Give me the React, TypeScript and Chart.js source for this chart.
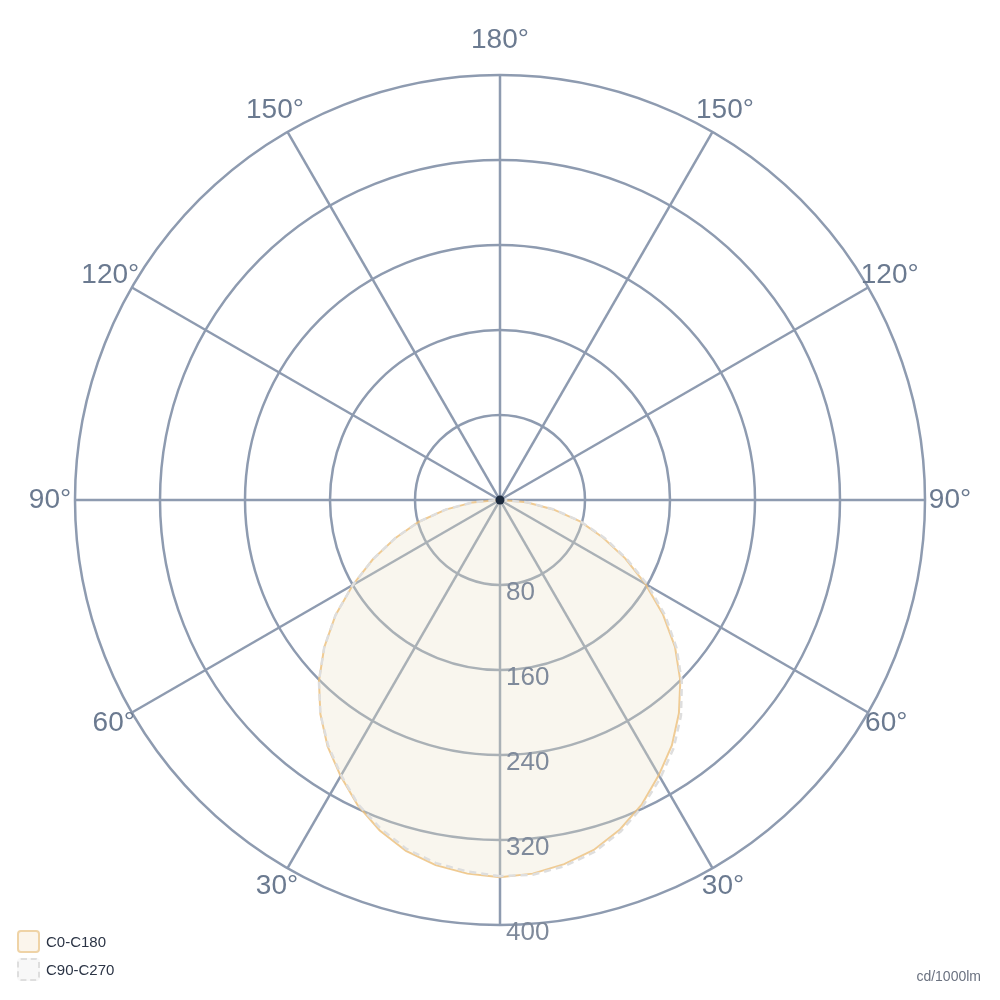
import React, { useEffect, useRef } from 'react';
import { Chart, registerables } from 'chart.js';

Chart.register(...registerables);

// gamma angle from nadir, one entry per 5 degrees
const gammaAngles = [
  0, 5, 10, 15, 20, 25, 30, 35, 40, 45, 50, 55, 60, 65, 70, 75, 80, 85, 90,
  95, 100, 105, 110, 115, 120, 125, 130, 135, 140, 145, 150, 155, 160, 165, 170, 175, 180,
];

// cd/1000lm per half plane
const c180Values = [
  355, 353, 349, 342, 331, 317, 300, 283, 263, 241, 216, 189, 160, 132, 105, 79, 52, 26, 2,
  0, 0, 0, 0, 0, 0, 0, 0, 0, 0, 0, 0, 0, 0, 0, 0, 0, 0,
];
const c0Values = [
  355, 353, 348, 341, 330, 316, 299, 282, 262, 240, 215, 187, 158, 130, 103, 78, 51, 25, 2,
  0, 0, 0, 0, 0, 0, 0, 0, 0, 0, 0, 0, 0, 0, 0, 0, 0, 0,
];
const c270Values = [
  354, 351, 347, 340, 329, 316, 299, 282, 263, 241, 216, 189, 160, 132, 105, 79, 52, 26, 2,
  0, 0, 0, 0, 0, 0, 0, 0, 0, 0, 0, 0, 0, 0, 0, 0, 0, 0,
];
const c90Values = [
  354, 354, 350, 343, 332, 318, 302, 285, 265, 242, 217, 190, 161, 132, 105, 79, 52, 26, 2,
  0, 0, 0, 0, 0, 0, 0, 0, 0, 0, 0, 0, 0, 0, 0, 0, 0, 0,
];

const radialTicks = [80, 160, 240, 320, 400];
const angleTickLabels = [30, 60, 90, 120, 150, 180];
const seriesNames = ['C0-C180', 'C90-C270'];
const unitLabel = 'cd/1000lm';

const FONT = '"Liberation Sans", Arial, sans-serif';
const gridColor = '#8e9bb0';

// the radar runs clockwise from the nadir: left half first, then the right half back down
const lastStep = gammaAngles.length - 1;
const radarLabels = [...gammaAngles, ...gammaAngles.slice(1, lastStep).reverse()];
const joinPlanes = (left: number[], right: number[]) => [...left, ...right.slice(1, lastStep).reverse()];

const polarLabelsPlugin = {
  id: 'polarLabels',
  afterDatasetsDraw(chart: any) {
    const scale = chart.scales.r;
    const ctx = chart.ctx;
    ctx.save();

    // intensity values along the nadir ray
    ctx.font = '26px ' + FONT;
    ctx.fillStyle = '#7f8a9b';
    ctx.textAlign = 'left';
    ctx.textBaseline = 'alphabetic';
    radialTicks.forEach(v => {
      const d = scale.getDistanceFromCenterForValue(v);
      ctx.fillText(String(v), scale.xCenter + 6, scale.yCenter + d + 15);
    });

    // gamma labels around the outside
    ctx.font = '28px ' + FONT;
    ctx.fillStyle = '#6b7a90';
    ctx.textAlign = 'center';
    ctx.textBaseline = 'middle';
    radarLabels.forEach((g, i) => {
      if (!angleTickLabels.includes(g)) return;
      const gap = g === 180 ? 35 : g <= 60 ? 21 : 25;
      const p = scale.getPointPosition(i, scale.drawingArea + gap);
      ctx.fillText(g + '°', p.x, p.y);
    });
    ctx.restore();
  },
};

export default function App() {
  const canvasRef = useRef<HTMLCanvasElement>(null);

  useEffect(() => {
    const ctx = canvasRef.current?.getContext('2d');
    if (!ctx) return;

    const chart = new Chart(ctx, {
      type: 'radar',
      data: {
        labels: radarLabels,
        datasets: [
          {
            label: 'origin',
            data: radarLabels.map((_, i) => (i === 0 ? 0 : null)),
            showLine: false,
            pointRadius: 4.5,
            pointBackgroundColor: '#1c2a3d',
            pointBorderWidth: 0,
            order: -1,
          },
          {
            label: seriesNames[1],
            data: joinPlanes(c270Values, c90Values),
            borderColor: '#dedede',
            borderWidth: 2.5,
            borderDash: [7, 5],
            backgroundColor: 'rgba(235, 235, 235, 0.05)',
            fill: true,
            pointRadius: 0,
            order: 0,
          },
          {
            label: seriesNames[0],
            data: joinPlanes(c180Values, c0Values),
            borderColor: 'rgba(236, 190, 120, 0.8)',
            borderWidth: 2,
            backgroundColor: 'rgba(238, 224, 194, 0.27)',
            fill: true,
            pointRadius: 0,
            order: 1,
          },
        ],
      },
      options: {
        animation: false,
        responsive: true,
        maintainAspectRatio: false,
        layout: { padding: 75 },
        plugins: {
          legend: { display: false },
          tooltip: { enabled: false },
        },
        elements: { line: { tension: 0 } },
        scales: {
          r: {
            min: 0,
            max: 400,
            startAngle: 180,
            ticks: { display: false, stepSize: 80 },
            pointLabels: { display: false },
            grid: { circular: true, color: gridColor, lineWidth: 2.5 },
            angleLines: {
              color: gridColor,
              lineWidth: (c: any) => (c.index % 6 === 0 ? 2.5 : 0),
            },
          },
        },
      } as any,
      plugins: [polarLabelsPlugin],
    });

    return () => {
      chart.destroy();
    };
  }, []);

  return (
    <div style={{ position: 'fixed', left: 0, top: 0, width: 1000, height: 1000, background: '#fff' }}>
      <div style={{ position: 'absolute', left: 0, top: 0, width: 1000, height: 1000 }}>
        <canvas ref={canvasRef} aria-label="Light distribution polar diagram"></canvas>
      </div>
      {seriesNames.map((name, i) => (
        <div
          key={name}
          style={{ position: 'absolute', left: 17, top: 930 + i * 28, display: 'flex', alignItems: 'center', height: 23 }}
        >
          <span
            style={{
              display: 'inline-block',
              boxSizing: 'border-box',
              width: 23,
              height: 23,
              borderRadius: 4,
              border: i === 0 ? '2px solid #efd3a6' : '2px dashed #dedede',
              background: i === 0 ? '#fbf5ec' : '#f8f8f8',
            }}
          />
          <span style={{ marginLeft: 6, font: '15px ' + FONT, color: '#2b3445' }}>{name}</span>
        </div>
      ))}
      <div style={{ position: 'absolute', right: 19, top: 968, font: '14px ' + FONT, color: '#6b7280' }}>{unitLabel}</div>
    </div>
  );
}
